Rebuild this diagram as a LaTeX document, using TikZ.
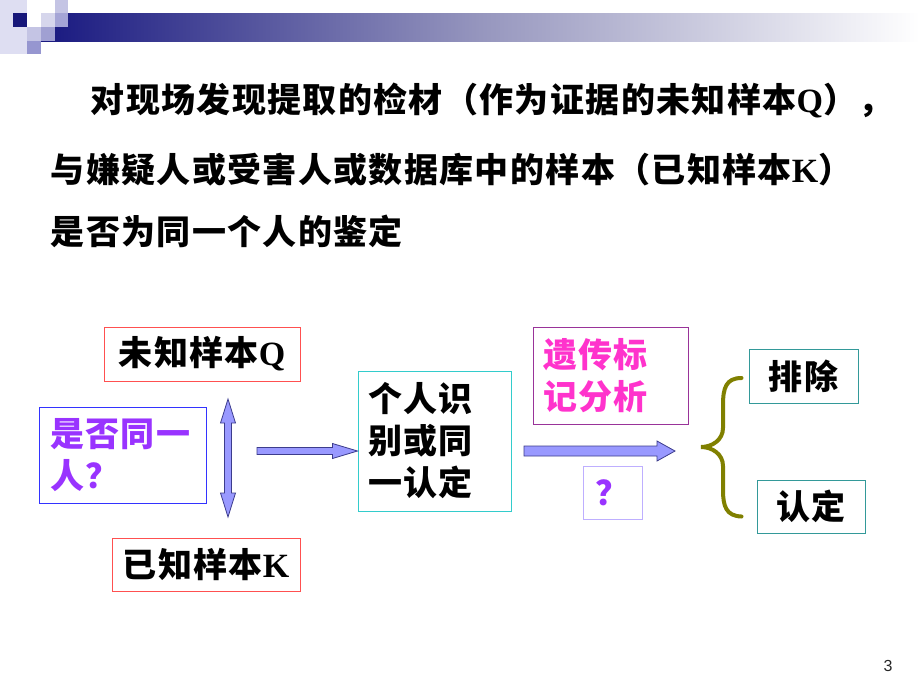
\documentclass[tikz,border=0pt]{standalone}
\usepackage{fontspec}
\usepackage{xcolor}
\usetikzlibrary{calc}

\newfontfamily\cjk[LetterSpace=4]{Noto Sans CJK SC}
\newfontfamily\serifletter{Liberation Serif}
\newfontfamily\pagefont{Liberation Sans}

\definecolor{navybar}{RGB}{24,24,128}
\definecolor{redbox}{RGB}{255,80,80}
\definecolor{bluebox}{RGB}{51,51,255}
\definecolor{violettext}{RGB}{153,51,255}
\definecolor{cyanbox}{RGB}{51,204,204}
\definecolor{plumbox}{RGB}{153,51,153}
\definecolor{pinktext}{RGB}{255,51,204}
\definecolor{lilacbox}{RGB}{190,175,255}
\definecolor{tealbox}{RGB}{51,153,153}
\definecolor{bracecol}{RGB}{128,128,0}
\definecolor{arrowfill}{RGB}{153,153,255}
\definecolor{arrowline}{RGB}{60,60,140}

\begin{document}
\begin{tikzpicture}[x=0.75pt,y=0.75pt,yscale=-1,xscale=1,
  cn/.style={font={\cjk\bfseries\fontsize{25.5}{31.5}\selectfont}},
  boxnode/.style={cn, draw, line width=0.75pt, inner sep=0pt},
  blockarrow/.style={fill=arrowfill, draw=arrowline, line width=0.6pt, line join=miter}]
\useasboundingbox (0,0) rectangle (920,690);

%Shape: header squares and bar
\shade[left color=navybar, right color=white, middle color={rgb,255:red,150;green,150;blue,190}] (41,13) rectangle (920,41);
\fill [color={rgb,255:red,222;green,222;blue,242}] (0,0) rectangle (27,54);
\fill [color=navybar!95!black] (13,13) rectangle (27,27);
\fill [color={rgb,255:red,196;green,196;blue,228}] (27,27) rectangle (41,41);
\fill [color={rgb,255:red,150;green,150;blue,208}] (27,41) rectangle (41,54);
\fill [color={rgb,255:red,214;green,214;blue,236}] (41,13) rectangle (55,27);
\fill [color={rgb,255:red,196;green,196;blue,228}] (55,0) rectangle (68,13);
\fill [color={rgb,255:red,165;green,165;blue,214}] (55,13) rectangle (68,27);
\fill [color={rgb,255:red,160;green,160;blue,210}] (41,27) rectangle (55,41);

% Text Node
\node [cn, anchor=west] (line1) at (86,100) {对现场发现提取的检材（作为证据的未知样本{\serifletter Q}），};
% Text Node
\node [cn, anchor=west] (line2) at (46,170) {与嫌疑人或受害人或数据库中的样本（已知样本{\serifletter K}）};
% Text Node
\node [cn, anchor=west] (line3) at (46,231) {是否为同一个人的鉴定};

%Shape: Rectangle
\node [boxnode, draw=redbox, minimum width=147pt, minimum height=40.5pt] (qbox) at (202,354) {未知样本{\serifletter Q}};
%Shape: Rectangle
\node [boxnode, draw=bluebox, text=violettext, minimum height=72pt, text width=108.75pt, inner xsep=8.25pt, align=left] (samebox) at (122.5,455) {是否同一\\人？};
%Shape: Rectangle
\node [boxnode, draw=redbox, minimum width=141pt, minimum height=39.75pt] (kbox) at (206,564.5) {已知样本{\serifletter K}};
%Shape: Rectangle
\node [boxnode, draw=cyanbox, minimum height=105pt, text width=99.75pt, inner xsep=7.5pt, align=left] (idbox) at (434.5,441) {个人识\\别或同\\一认定};
%Shape: Rectangle
\node [boxnode, draw=plumbox, text=pinktext, minimum height=72.75pt, text width=101.25pt, inner xsep=7.5pt, align=left] (gbox) at (610.5,375.5) {遗传标\\记分析};
%Shape: Rectangle
\node [boxnode, draw=lilacbox, text=violettext, minimum width=44.25pt, minimum height=39.75pt] (qmbox) at (612.5,492.5) {？};
%Shape: Rectangle
\node [boxnode, draw=tealbox, minimum width=81.75pt, minimum height=40.5pt] (exbox) at (803.5,376) {排除};
%Shape: Rectangle
\node [boxnode, draw=tealbox, minimum width=81pt, minimum height=39.75pt] (okbox) at (811,506.5) {认定};

\coordinate (vtop) at (228,399);
\coordinate (vbot) at (228,517);
\coordinate (htail) at (257,451);
\coordinate (htip) at (idbox.west |- htail);
\coordinate (gtail) at (524,451);
\coordinate (gtip) at (675,451);

%Shape: Up Down Arrow
\draw [blockarrow] (vtop) -- ($(vtop)+(7.5,24)$) -- ($(vtop)+(3.5,24)$) -- ($(vbot)+(3.5,-24)$) -- ($(vbot)+(7.5,-24)$) -- (vbot)
  -- ($(vbot)+(-7.5,-24)$) -- ($(vbot)+(-3.5,-24)$) -- ($(vtop)+(-3.5,24)$) -- ($(vtop)+(-7.5,24)$) -- cycle ;
%Shape: Right Arrow
\draw [blockarrow] ($(htail)+(0,-3.5)$) -- ($(htip)+(-25,-3.5)$) -- ($(htip)+(-25,-7.5)$) -- (htip)
  -- ($(htip)+(-25,7.5)$) -- ($(htip)+(-25,3.5)$) -- ($(htail)+(0,3.5)$) -- cycle ;
%Shape: Right Arrow
\draw [blockarrow] ($(gtail)+(0,-5)$) -- ($(gtip)+(-18,-5)$) -- ($(gtip)+(-18,-10)$) -- (gtip)
  -- ($(gtip)+(-18,10)$) -- ($(gtip)+(-18,5)$) -- ($(gtail)+(0,5)$) -- cycle ;

%Shape: Brace
\draw [color=bracecol, line width=3pt, line cap=round]
  ($(exbox.west)+(-7,2)$) .. controls (726,378) and (723,388) .. (723,405) -- (723,428)
  .. controls (723,440) and (712,447) .. (701,447)
  .. controls (712,447) and (723,454) .. (723,466) -- (723,490)
  .. controls (723,506) and (726,516) .. ($(okbox.west)+(-15,10)$) ;

% Text Node
\node [font={\pagefont\fontsize{12}{14}\selectfont}, text=black!85] (pagenum) at (888,666) {3};
\end{tikzpicture}
\end{document}
